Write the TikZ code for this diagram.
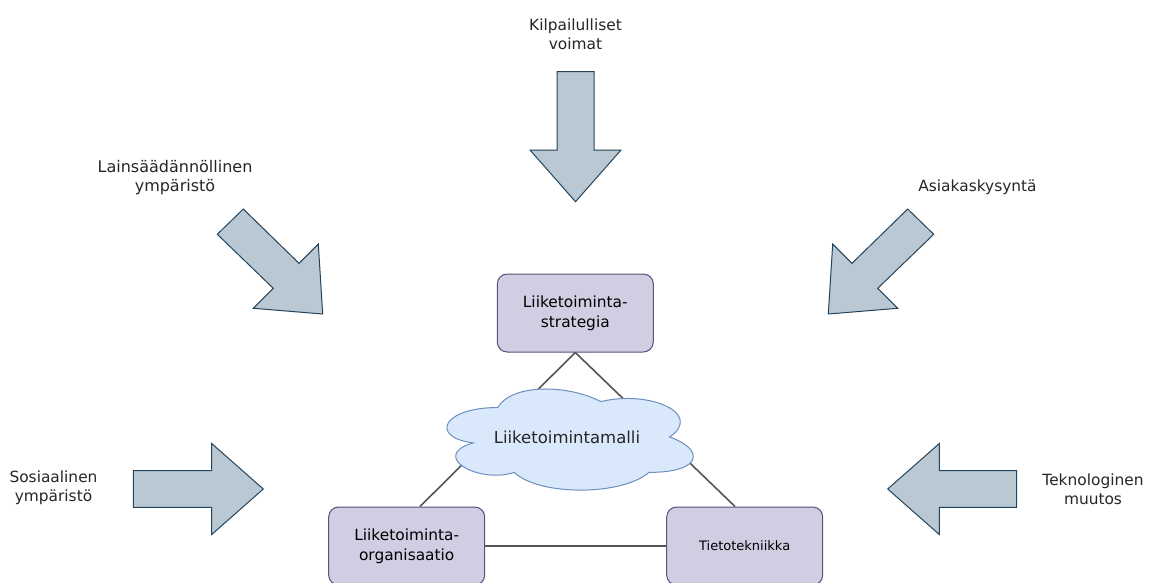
\documentclass[tikz,border=0pt]{standalone}
\usepackage{fontspec}
\setmainfont{DejaVu Sans}
\begin{document}
\begin{tikzpicture}[x=1pt,y=-1pt,
  forcearrow/.style={fill=arrowfill,draw=arrowline,line width=1pt,line join=miter},
  mbox/.style={draw=boxline,fill=boxfill,line width=1pt,rounded corners=10pt,
    minimum width=156pt,minimum height=78pt,inner sep=0pt,align=center,
    font=\fontsize{15.4}{20}\selectfont},
  lbl/.style={align=center,inner sep=0pt,font=\fontsize{15.4}{19}\selectfont,text=black!85},
  link/.style={draw=linkgray,line width=1.6pt}]
\definecolor{arrowfill}{HTML}{BAC8D3}
\definecolor{arrowline}{HTML}{23445D}
\definecolor{boxfill}{HTML}{D0CEE2}
\definecolor{boxline}{HTML}{56517E}
\definecolor{cloudfill}{HTML}{DAE8FC}
\definecolor{cloudline}{HTML}{6C8EBF}
\definecolor{linkgray}{HTML}{555555}
\useasboundingbox (0,0) rectangle (1159,582);
\clip (0,0) rectangle (1159,582);
\fill[white] (0,0) rectangle (1159,582);

% force arrows
\draw[forcearrow] (557,71.7) -- (594,71.7) -- (594,150) -- (621,150) -- (575.5,201.7)
  -- (530,150) -- (557,150) -- cycle;
\draw[forcearrow] (217.3,234.3) -- (243.3,209) -- (299,263.3) -- (318.3,244) -- (322.7,314)
  -- (253.3,308.3) -- (273.3,288.3) -- cycle;
\draw[forcearrow] (933.7,234.3) -- (907.7,209) -- (852,263.3) -- (832.7,244) -- (828.3,314)
  -- (897.7,308.3) -- (877.7,288.3) -- cycle;
\draw[forcearrow] (133.3,470.7) -- (211.7,470.7) -- (211.7,443.5) -- (263.3,489)
  -- (211.7,534.5) -- (211.7,507.3) -- (133.3,507.3) -- cycle;
\draw[forcearrow] (1016.7,470.7) -- (939.3,470.7) -- (939.3,443.5) -- (887.7,489)
  -- (939.3,534.5) -- (939.3,507.3) -- (1016.7,507.3) -- cycle;

% labels
\node[lbl] (kilp) at (575.5,34) {Kilpailulliset\\voimat};
\node[lbl,font=\fontsize{16}{19}\selectfont] (lain) at (175,178) {Lainsäädännöllinen\\ympäristö};
\node[lbl] (asia) at (977.5,187) {Asiakaskysyntä};
\node[lbl] (sosi) at (53.5,488) {Sosiaalinen\\ympäristö};
\node[lbl] (tekn) at (1093,489) {Teknologinen\\muutos};

% boxes
\node[mbox] (strat) at (575.3,313) {Liiketoiminta-\\strategia};
\node[mbox] (org) at (406.7,546) {Liiketoiminta-\\organisaatio};
\node[mbox,font=\fontsize{13}{17}\selectfont] (tieto) at (744.7,546) {Tietotekniikka};

% connectors
\draw[link] (strat.south) -- ([xshift=13.3pt]org.north);
\draw[link] (strat.south) -- ([xshift=-9.7pt]tieto.north);
\draw[link] (org.east) -- (tieto.west);

% cloud
\begin{scope}[shift={(429,378)},x=275pt,y=-118pt]
\draw[fill=cloudfill,draw=cloudline,line width=1pt]
  (0.25,0.25) .. controls (0.05,0.25) and (0,0.5) .. (0.16,0.55)
  .. controls (0,0.66) and (0.18,0.9) .. (0.31,0.8)
  .. controls (0.4,1) and (0.7,1) .. (0.8,0.8)
  .. controls (1,0.8) and (1,0.6) .. (0.875,0.5)
  .. controls (1,0.3) and (0.8,0.1) .. (0.625,0.2)
  .. controls (0.5,0.05) and (0.3,0.05) .. (0.25,0.25) -- cycle;
\end{scope}
\node[inner sep=0pt,font=\fontsize{16.5}{20}\selectfont,text=black!85] (malli) at (567,437) {Liiketoimintamalli};
\end{tikzpicture}
\end{document}
